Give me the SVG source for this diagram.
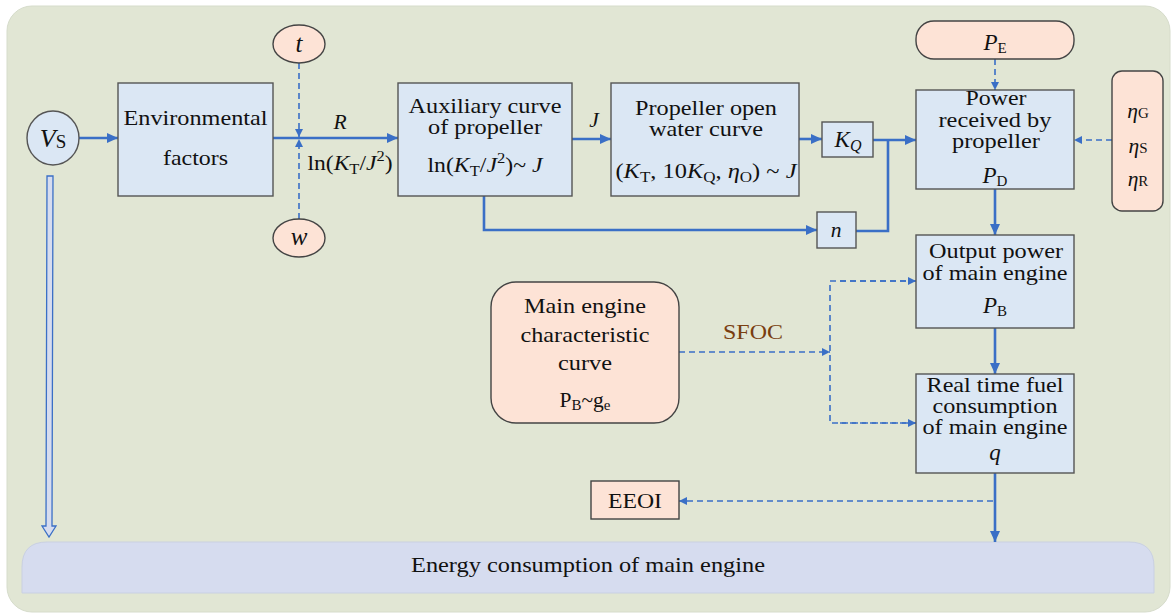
<svg xmlns="http://www.w3.org/2000/svg" width="1172" height="613" viewBox="0 0 1172 613">
<style>
text{font-family:"Liberation Serif","Times New Roman",serif;font-size:21.5px;fill:#111;text-anchor:middle}
.it{font-style:italic}
.sub{font-size:15px;font-style:normal}
.box{fill:#dbe7f4;stroke:#555;stroke-width:1.4}
.pch{fill:#fde3d6;stroke:#444;stroke-width:1.4}
.sol{fill:none;stroke:#3a6fc6;stroke-width:2.6}
.dsh{fill:none;stroke:#3a6fc6;stroke-width:1.6;stroke-dasharray:6 4}
</style>
<defs>
<marker id="ah" markerUnits="userSpaceOnUse" markerWidth="12" markerHeight="10" refX="11" refY="5" orient="auto"><path d="M0,0 L11,5 L0,10 z" fill="#3a6fc6"/></marker>
<marker id="ad" markerUnits="userSpaceOnUse" markerWidth="9" markerHeight="8" refX="8" refY="4" orient="auto"><path d="M0,0 L8,4 L0,8 z" fill="#3a6fc6"/></marker>
</defs>
<rect x="7" y="6" width="1163" height="606" rx="25" fill="#e1e6d4" stroke="#d6dccb"/>
<g id="energy">
<path d="M22,593 V567 Q22,542 47,542 H1129 Q1154,542 1154,567 V593 Z" fill="#d6dcef" stroke="#c9d0e2"/>
<text x="588" y="572" textLength="354" lengthAdjust="spacingAndGlyphs" style="font-size:22px">Energy consumption of main engine</text>
</g>
<g id="connectors">
<line class="sol" x1="79" y1="138" x2="118" y2="138" marker-end="url(#ah)"/>
<line class="sol" x1="273" y1="138" x2="398" y2="138" marker-end="url(#ah)"/>
<line class="dsh" x1="299" y1="63" x2="299" y2="137" marker-end="url(#ad)"/>
<line class="dsh" x1="299" y1="219" x2="299" y2="139" marker-end="url(#ad)"/>
<line class="sol" x1="572" y1="139" x2="611" y2="139" marker-end="url(#ah)"/>
<line class="sol" x1="799" y1="139" x2="822" y2="139" marker-end="url(#ah)"/>
<line class="sol" x1="873" y1="140" x2="916" y2="140" marker-end="url(#ah)"/>
<path class="sol" d="M484,196 V230 H817" marker-end="url(#ah)"/>
<path class="sol" d="M856,231 H888 V140"/>
<line class="dsh" x1="995" y1="59" x2="995" y2="90" marker-end="url(#ad)"/>
<line class="dsh" x1="1112" y1="140" x2="1074" y2="140" marker-end="url(#ad)"/>
<line class="sol" x1="995" y1="189" x2="995" y2="235" marker-end="url(#ah)"/>
<line class="sol" x1="995" y1="328" x2="995" y2="374" marker-end="url(#ah)"/>
<line class="dsh" x1="679" y1="352" x2="830" y2="352" marker-end="url(#ad)"/>
<path class="dsh" d="M916,281 H830 V423 H916"/>
<line class="dsh" x1="840" y1="281" x2="916" y2="281" marker-end="url(#ad)"/>
<line class="dsh" x1="840" y1="423" x2="916" y2="423" marker-end="url(#ad)"/>
<line class="sol" x1="995" y1="473" x2="995" y2="542" marker-end="url(#ah)" stroke-width="2"/>
<line class="dsh" x1="993" y1="501" x2="679" y2="501" marker-end="url(#ad)"/>
<path d="M47,176 H53 L52,526 H56 L49,537 L42,526 H46 Z" fill="#d6dcef" stroke="#3a6fc6" stroke-width="1.3"/>
<text x="340" y="129" class="it">R</text>
<text x="350" y="170" textLength="85" lengthAdjust="spacingAndGlyphs">ln(<tspan class="it">K</tspan><tspan class="sub" dy="4">T</tspan><tspan dy="-4">/</tspan><tspan class="it">J</tspan><tspan class="sub" dy="-9">2</tspan><tspan dy="9">)</tspan></text>
<text x="594" y="127" class="it">J</text>
<text x="753" y="339" style="fill:#7a3e10" textLength="60" lengthAdjust="spacingAndGlyphs">SFOC</text>
</g>
<g id="vs">
<ellipse cx="53" cy="138" rx="26" ry="27" class="box"/>
<text x="53" y="147" style="font-size:26px"><tspan class="it">V</tspan><tspan style="font-size:19px" dy="1">S</tspan></text>
</g>
<g id="t">
<ellipse cx="299" cy="44" rx="26" ry="19" class="pch"/>
<text x="299" y="52" class="it" style="font-size:25px">t</text>
</g>
<g id="w">
<ellipse cx="299" cy="238" rx="26" ry="19" class="pch"/>
<text x="299" y="245" class="it" style="font-size:25px">w</text>
</g>
<g id="env">
<rect x="118" y="83" width="155" height="113" class="box"/>
<text x="195.5" y="125" textLength="144" lengthAdjust="spacingAndGlyphs">Environmental</text>
<text x="195.5" y="165" textLength="65" lengthAdjust="spacingAndGlyphs">factors</text>
</g>
<g id="aux">
<rect x="398" y="83" width="174" height="113" class="box"/>
<text x="485" y="113" textLength="153" lengthAdjust="spacingAndGlyphs">Auxiliary curve</text>
<text x="485" y="134" textLength="114" lengthAdjust="spacingAndGlyphs">of propeller</text>
<text x="485" y="172" textLength="115" lengthAdjust="spacingAndGlyphs">ln(<tspan class="it">K</tspan><tspan class="sub" dy="4">T</tspan><tspan dy="-4">/</tspan><tspan class="it">J</tspan><tspan class="sub" dy="-9">2</tspan><tspan dy="9">)~ </tspan><tspan class="it">J</tspan></text>
</g>
<g id="pow">
<rect x="611" y="83" width="188" height="113" class="box"/>
<text x="706" y="115" textLength="142" lengthAdjust="spacingAndGlyphs">Propeller open</text>
<text x="706" y="136" textLength="114" lengthAdjust="spacingAndGlyphs">water curve</text>
<text x="706" y="178" textLength="181" lengthAdjust="spacingAndGlyphs">(<tspan class="it">K</tspan><tspan class="sub" dy="4">T</tspan><tspan dy="-4">, 10</tspan><tspan class="it">K</tspan><tspan class="sub" dy="4">Q</tspan><tspan dy="-4">, </tspan><tspan class="it">η</tspan><tspan class="sub" dy="4">O</tspan><tspan dy="-4">) ~ </tspan><tspan class="it">J</tspan></text>
</g>
<g id="kq">
<rect x="822" y="122" width="51" height="35" class="box"/>
<text x="848" y="147" style="font-size:23px"><tspan class="it">K</tspan><tspan class="sub" dy="4" style="font-style:italic;font-size:16px">Q</tspan></text>
</g>
<g id="n">
<rect x="817" y="212" width="39" height="36" class="box"/>
<text x="836" y="237" class="it">n</text>
</g>
<g id="pe">
<rect x="916" y="21" width="158" height="38" rx="18" class="pch"/>
<text x="995" y="50" style="font-size:23px"><tspan class="it">P</tspan><tspan class="sub" dy="3">E</tspan></text>
</g>
<g id="eta">
<rect x="1112" y="71" width="51" height="140" rx="10" class="pch"/>
<text x="1138" y="118"><tspan class="it">η</tspan><tspan class="sub">G</tspan></text>
<text x="1138" y="153"><tspan class="it">η</tspan><tspan class="sub">S</tspan></text>
<text x="1138" y="186"><tspan class="it">η</tspan><tspan class="sub">R</tspan></text>
</g>
<g id="pd">
<rect x="916" y="90" width="158" height="99" class="box"/>
<text x="996" y="105" textLength="61" lengthAdjust="spacingAndGlyphs">Power</text>
<text x="995" y="127" textLength="113" lengthAdjust="spacingAndGlyphs">received by</text>
<text x="996" y="148" textLength="88" lengthAdjust="spacingAndGlyphs">propeller</text>
<text x="995" y="183" style="font-size:23px"><tspan class="it">P</tspan><tspan class="sub" dy="3">D</tspan></text>
</g>
<g id="pb">
<rect x="916" y="235" width="158" height="93" class="box"/>
<text x="996" y="258" textLength="134" lengthAdjust="spacingAndGlyphs">Output power</text>
<text x="995" y="280" textLength="145" lengthAdjust="spacingAndGlyphs">of main engine</text>
<text x="995" y="313" style="font-size:23px"><tspan class="it">P</tspan><tspan class="sub" dy="3">B</tspan></text>
</g>
<g id="q">
<rect x="916" y="374" width="158" height="99" class="box"/>
<text x="995" y="392" textLength="137" lengthAdjust="spacingAndGlyphs">Real time fuel</text>
<text x="995" y="413" textLength="125" lengthAdjust="spacingAndGlyphs">consumption</text>
<text x="995" y="434" textLength="145" lengthAdjust="spacingAndGlyphs">of main engine</text>
<text x="995" y="460" class="it" style="font-size:23px">q</text>
</g>
<g id="mec">
<rect x="491" y="282" width="188" height="141" rx="25" class="pch"/>
<text x="585" y="313" textLength="122" lengthAdjust="spacingAndGlyphs">Main engine</text>
<text x="585" y="342" textLength="129" lengthAdjust="spacingAndGlyphs">characteristic</text>
<text x="585" y="370" textLength="54" lengthAdjust="spacingAndGlyphs">curve</text>
<text x="585" y="407">P<tspan class="sub" dy="3">B</tspan><tspan dy="-3">~g</tspan><tspan class="sub" dy="3">e</tspan></text>
</g>
<g id="eeoi">
<rect x="591" y="481" width="88" height="38" class="pch"/>
<text x="635" y="508" textLength="54" lengthAdjust="spacingAndGlyphs">EEOI</text>
</g>
</svg>
